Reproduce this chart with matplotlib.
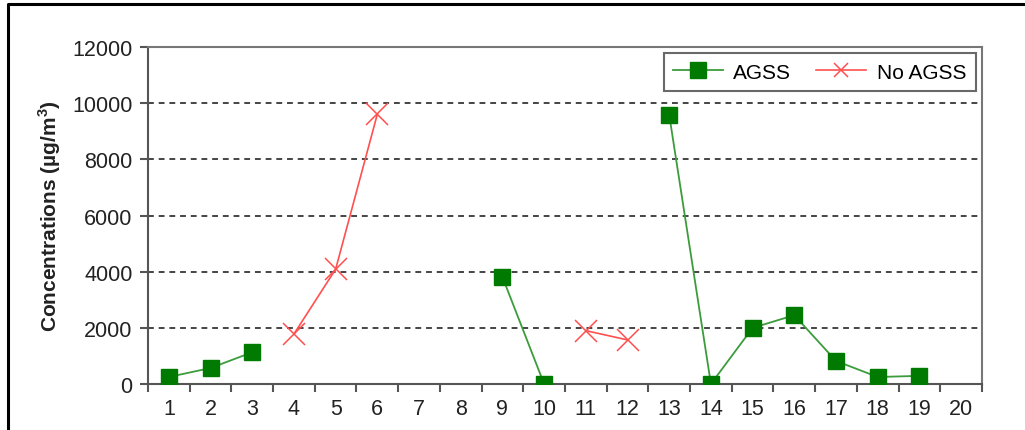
import numpy as np
import matplotlib.pyplot as plt
from matplotlib.lines import Line2D

plt.rcParams['font.family'] = ['Liberation Sans', 'DejaVu Sans']

categories = list(range(1, 21))
agss = [250, 570, 1130, None, None, None, None, None, 3810, 0,
        None, None, 9580, 0, 2000, 2450, 820, 250, 290, None]
no_agss = [None, None, None, 1780, 4090, 9610, None, None, None, None,
           1900, 1570, None, None, None, None, None, None, None, None]
y_ticks = [0, 2000, 4000, 6000, 8000, 10000, 12000]

agss_y = np.array([np.nan if v is None else v for v in agss], dtype=float)
no_agss_y = np.array([np.nan if v is None else v for v in no_agss], dtype=float)

fig = plt.figure(figsize=(10.25, 4.31), dpi=100, facecolor='white')
ax = fig.add_axes([0.1444, 0.1067, 0.8136, 0.7819])

for y in y_ticks[1:-1]:
    ax.axhline(y, color='#444444', linestyle=(0, (3, 2.5)), linewidth=1.4, zorder=1)

ax.plot(categories, agss_y, color='#3c9c3c', linewidth=1.3, marker='s',
        markersize=11, markerfacecolor='#007a00', markeredgecolor='#007a00',
        label='AGSS', zorder=3)
ax.plot(categories, no_agss_y, color='#ff5050', linewidth=1.2, marker='x',
        markersize=16, markeredgewidth=1.1, markeredgecolor='#ff5050',
        label='No AGSS', zorder=3)

ax.set_xlim(0.5, 20.5)
ax.set_ylim(0, 12000)
ax.set_yticks(y_ticks)
ax.set_xticks(categories)
ax.set_xticks(np.arange(0.5, 21, 1), minor=True)
ax.tick_params(axis='x', which='major', length=0, pad=10, labelsize=15.5, labelcolor='#222222')
ax.tick_params(axis='x', which='minor', length=6, width=1.5, color='#555555', direction='out')
ax.tick_params(axis='y', length=6, width=1.5, color='#555555', direction='out',
               labelsize=15.5, labelcolor='#222222', pad=5)

for side in ['left', 'right', 'top', 'bottom']:
    ax.spines[side].set_color('#777777')
    ax.spines[side].set_linewidth(1.5)
ax.spines['bottom'].set_color('#555555')
ax.spines['left'].set_color('#555555')

ax.set_ylabel('Concentrations (µg/m$^\\mathregular{3}$)', fontsize=15,
              fontweight='bold', color='#222222', labelpad=7)

leg = ax.legend(loc='upper right', ncol=2, fontsize=15, frameon=True, fancybox=False,
                borderaxespad=0.3, handlelength=2.4, columnspacing=1.2,
                borderpad=0.45, handletextpad=0.5)
leg.get_frame().set_edgecolor('#444444')
leg.get_frame().set_linewidth(1.5)
leg.legend_handles[1].set_markersize(10)

# outer frame (left and top edges visible)
fig.add_artist(Line2D([0.008, 0.008, 0.998], [0.0, 0.988, 0.988],
                      transform=fig.transFigure, color='black', linewidth=2.2))

fig.savefig('out.png', dpi=100, facecolor='white')
